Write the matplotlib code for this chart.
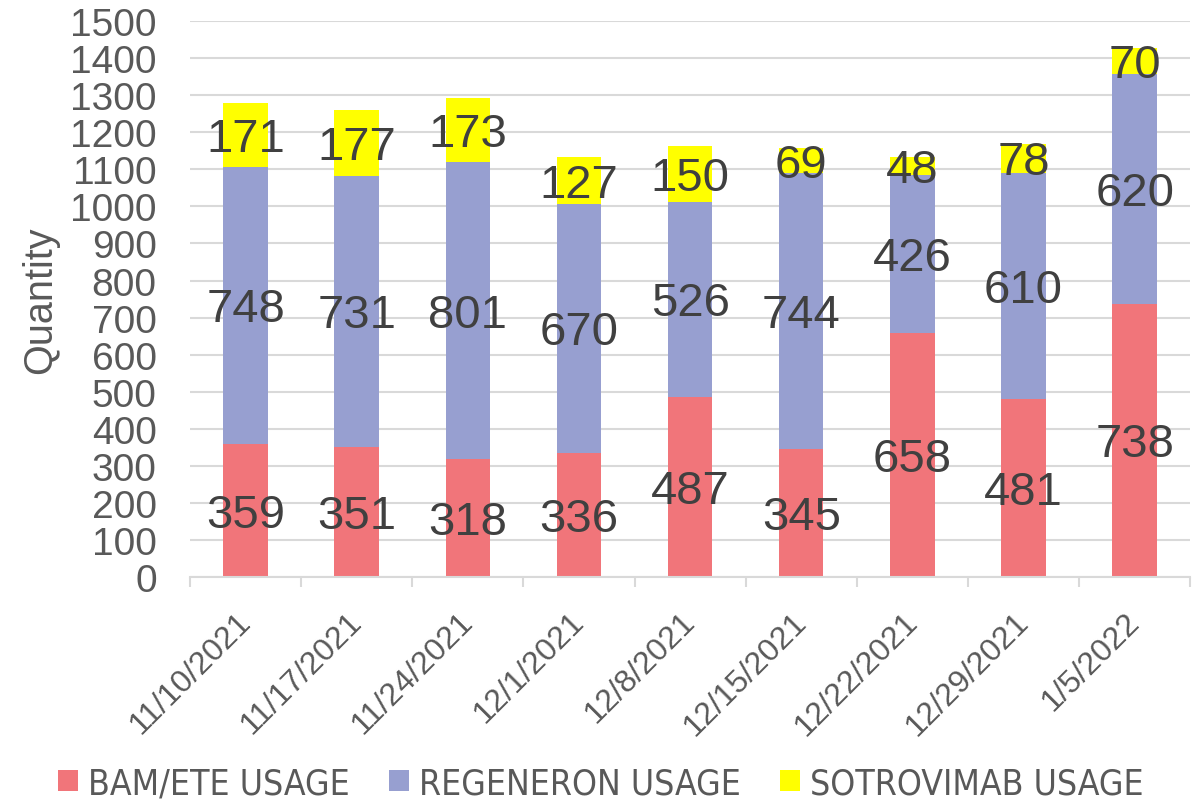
import matplotlib
matplotlib.use("Agg")
import matplotlib.pyplot as plt
import numpy as np
from matplotlib.patches import Patch
from matplotlib.font_manager import FontProperties
from matplotlib.transforms import ScaledTranslation

dates = ["11/10/2021", "11/17/2021", "11/24/2021", "12/1/2021", "12/8/2021",
         "12/15/2021", "12/22/2021", "12/29/2021", "1/5/2022"]
bam = [359, 351, 318, 336, 487, 345, 658, 481, 738]
regen = [748, 731, 801, 670, 526, 744, 426, 610, 620]
sotro = [171, 177, 173, 127, 150, 69, 48, 78, 70]
series_names = ["BAM/ETE USAGE", "REGENERON USAGE", "SOTROVIMAB USAGE"]
colors = ["#F1757A", "#979FD0", "#FFFF00"]

plt.rcParams['font.family'] = ['Liberation Sans', 'DejaVu Sans']

fig = plt.figure(figsize=(11.95, 8.04), dpi=100)
ax = fig.add_axes([0.159, 0.281, 0.837, 0.6916])

lbl_offset = ax.transData + ScaledTranslation(0, -4 / 100, fig.dpi_scale_trans)

x = np.arange(len(dates))
w = 0.4
bottom = np.zeros(len(dates))
for vals, c in zip([bam, regen, sotro], colors):
    vals = np.array(vals, dtype=float)
    ax.bar(x, vals, w, bottom=bottom, color=c, zorder=2)
    for xi, b, v in zip(x, bottom, vals):
        ax.text(xi, b + v / 2, f"{int(v)}", ha='center', va='center',
                fontsize=34, color='#404040', zorder=3, transform=lbl_offset)
    bottom += vals

ax.set_xlim(-0.5, len(dates) - 0.5)
ax.set_ylim(0, 1500)
ax.set_yticks(np.arange(0, 1501, 100))
ax.yaxis.grid(True, color='#D9D9D9', linewidth=1.5, zorder=0)
ax.set_axisbelow(True)
for s in ['top', 'right', 'left']:
    ax.spines[s].set_visible(False)
ax.spines['bottom'].set_color('#D9D9D9')
ax.spines['bottom'].set_linewidth(1.5)
ax.tick_params(axis='y', length=0, labelsize=28, labelcolor='#595959', pad=24)

ax.set_xticks(np.arange(-0.5, len(dates), 1.0), minor=False)
ax.set_xticklabels([])
ax.tick_params(axis='x', which='major', length=7, color='#D9D9D9', width=1.5)
ax.set_xticks(x, minor=True)
ax.set_xticklabels(dates, minor=True, rotation=45, ha='right',
                   rotation_mode='anchor', fontsize=23, color='#595959')
ax.tick_params(axis='x', which='minor', length=0, pad=21)
shift = ScaledTranslation(-10 / 100, 0, fig.dpi_scale_trans)
for t in ax.get_xticklabels(minor=True):
    t.set_transform(t.get_transform() + shift)

ax.set_ylabel("Quantity", fontsize=28.5, color='#595959', labelpad=8)

handles = [Patch(facecolor=c, edgecolor='none') for c in colors]
lp = FontProperties(family='DejaVu Sans', stretch='condensed', size=25.5)
fig.legend(handles, series_names, loc='lower center', bbox_to_anchor=(0.503, -0.036),
           ncol=3, frameon=False, handlelength=0.55, handleheight=0.55,
           handletextpad=0.3, columnspacing=1.1,
           prop=lp, labelcolor='#595959')

fig.savefig("out.png", dpi=100)
